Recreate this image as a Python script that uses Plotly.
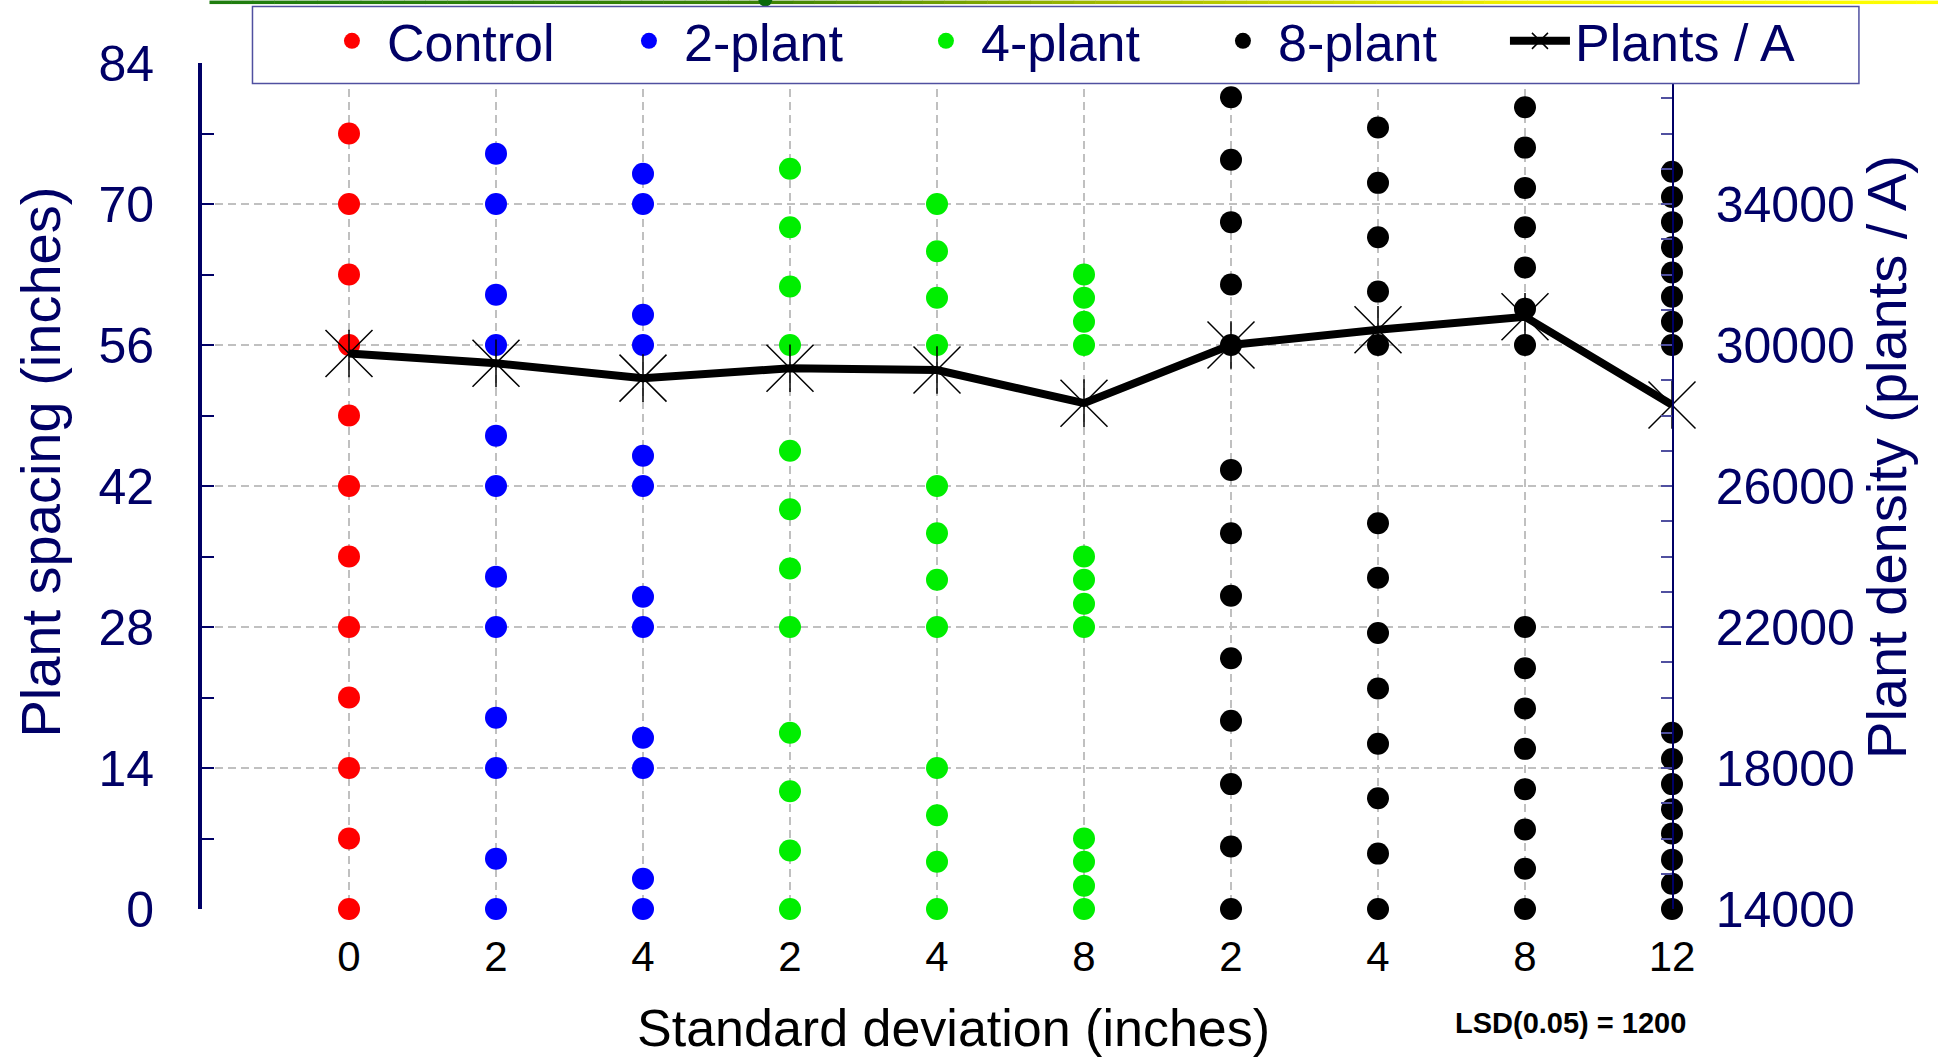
import plotly.graph_objects as go

# ---------------- data ----------------
x_tick_labels = ["0", "2", "4", "2", "4", "8", "2", "4", "8", "12"]

control_0 = [0, 7, 14, 21, 28, 35, 42, 49, 56, 63, 70, 77]
two_plant_2 = [0, 5, 14, 19, 28, 33, 42, 47, 56, 61, 70, 75]
two_plant_4 = [0, 3, 14, 17, 28, 31, 42, 45, 56, 59, 70, 73]
four_plant_2 = [0, 5.8, 11.7, 17.5, 28, 33.8, 39.7, 45.5, 56, 61.8, 67.7, 73.5]
four_plant_4 = [0, 4.7, 9.3, 14, 28, 32.7, 37.3, 42, 56, 60.7, 65.3, 70]
four_plant_8 = [0, 2.3, 4.7, 7, 28, 30.3, 32.7, 35, 56, 58.3, 60.7, 63]
eight_plant_2 = [0, 6.2, 12.4, 18.7, 24.9, 31.1, 37.3, 43.6, 56, 62.0, 68.2, 74.4, 80.6]
eight_plant_4 = [0, 5.5, 11.0, 16.4, 21.9, 27.4, 32.9, 38.3, 56, 61.3, 66.7, 72.1, 77.6]
eight_plant_8 = [0, 4.0, 7.9, 11.9, 15.9, 19.9, 23.9, 28.0, 56, 59.6, 63.7, 67.7, 71.6, 75.6, 79.6]
eight_plant_12 = [0, 2.5, 4.9, 7.5, 9.9, 12.4, 14.9, 17.5, 56, 58.3, 60.8, 63.2, 65.7, 68.2, 70.7, 73.2]

plants_per_acre = [29760, 29480, 29060, 29340, 29290, 28350, 30000, 30430, 30800, 28300]

# ---------------- geometry helpers (screen pixels) ----------------
W, H = 1938, 1059
PL, PR, PT, PB = 201.5, 1672.0, 62.5, 909.5
PW, PH = PR - PL, PB - PT


def px_x(px):
    return (px - PL) / PW


def px_y(py):
    return (PB - py) / PH


NAVY = "#000066"
FONT = "Liberation Sans, Arial, sans-serif"

groups = [
    ("Control", "#ff0000", [control_0]),
    ("2-plant", "#0000ff", [two_plant_2, two_plant_4]),
    ("4-plant", "#00ee00", [four_plant_2, four_plant_4, four_plant_8]),
    ("8-plant", "#000000", [eight_plant_2, eight_plant_4, eight_plant_8, eight_plant_12]),
]

fig = go.Figure()
col = 0
for name, color, columns in groups:
    xs, ys = [], []
    for c in columns:
        xs += [col] * len(c)
        ys += c
        col += 1
    fig.add_trace(go.Scatter(
        x=xs, y=ys, mode="markers", name=name,
        marker=dict(color=color, size=22, line=dict(width=0)),
        cliponaxis=False,
    ))

cat_x = list(range(len(x_tick_labels)))
fig.add_trace(go.Scatter(
    x=cat_x, y=plants_per_acre, yaxis="y2", mode="lines+markers", name="Plants / A",
    line=dict(color="black", width=8),
    marker=dict(symbol="x-thin-open", size=47, color="black", line=dict(color="black", width=1.5)),
    cliponaxis=False,
))
fig.add_trace(go.Scatter(
    x=cat_x, y=plants_per_acre, yaxis="y2", mode="markers", showlegend=False,
    marker=dict(symbol="line-ns-open", size=34, color="black", line=dict(color="black", width=1.5)),
    cliponaxis=False, hoverinfo="skip",
))

# ---------------- decoration (slide banner line + legend frame) ----------------
shapes = []
stops = [(209, (30, 125, 15)), (765, (60, 130, 5)), (1100, (160, 185, 0)),
         (1500, (238, 238, 0)), (1938, (255, 255, 0))]
nseg = 80
for i in range(nseg):
    a = 209 + (1938 - 209) * i / nseg
    b = 209 + (1938 - 209) * (i + 1) / nseg
    m = (a + b) / 2
    for j in range(len(stops) - 1):
        if stops[j][0] <= m <= stops[j + 1][0]:
            t = (m - stops[j][0]) / (stops[j + 1][0] - stops[j][0])
            c = tuple(int(stops[j][1][k] + t * (stops[j + 1][1][k] - stops[j][1][k])) for k in range(3))
            break
    shapes.append(dict(type="rect", xref="paper", yref="paper",
                       x0=px_x(a), x1=px_x(b + 0.5), y0=px_y(3.5), y1=px_y(0),
                       line=dict(width=0), fillcolor="rgb(%d,%d,%d)" % c, layer="above"))
shapes.append(dict(type="circle", xref="paper", yref="paper",
                   x0=px_x(758), x1=px_x(772), y0=px_y(6), y1=px_y(-8),
                   line=dict(width=0), fillcolor="#0a6a0a", layer="above"))
# legend frame
shapes.append(dict(type="rect", xref="paper", yref="paper",
                   x0=px_x(252), x1=px_x(1859), y0=px_y(83), y1=px_y(6),
                   line=dict(color="#5050a0", width=1.5), fillcolor="white", layer="above"))

grid_common = dict(gridcolor="#c0c0c0", gridwidth=2.2, griddash="8px,5px")

fig.update_layout(
    width=W, height=H,
    margin=dict(l=PL, r=W - PR, t=PT, b=H - PB, autoexpand=False),
    paper_bgcolor="white", plot_bgcolor="white",
    font=dict(family=FONT, color=NAVY),
    showlegend=True,
    legend=dict(
        orientation="h", x=px_x(1802), y=px_y(0), xanchor="right", yanchor="top",
        bgcolor="rgba(0,0,0,0)", borderwidth=0,
        font=dict(size=52, color=NAVY, family=FONT),
        entrywidth=222, itemwidth=60,
    ),
    xaxis=dict(
        range=[-1, 9], tickmode="array", tickvals=cat_x, ticktext=x_tick_labels,
        showgrid=True, **grid_common, zeroline=False, showline=False, ticks="",
        tickfont=dict(size=42, color="black", family=FONT), ticklabelstandoff=19,
    ),
    yaxis=dict(
        range=[0, 84], tickmode="array", tickvals=[0, 14, 28, 42, 56, 70, 84],
        showgrid=True, **grid_common, zeroline=False,
        showline=True, linecolor=NAVY, linewidth=4,
        ticks="inside", ticklen=12, tickwidth=2, tickcolor=NAVY,
        minor=dict(dtick=7, ticks="inside", ticklen=12, tickwidth=2, tickcolor=NAVY, showgrid=False),
        tickfont=dict(size=50, color=NAVY, family=FONT), ticklabelstandoff=34,
    ),
    yaxis2=dict(
        overlaying="y", side="right", range=[14000, 38000], tickmode="array",
        tickvals=[14000, 18000, 22000, 26000, 30000, 34000], tickformat="d",
        showgrid=False, zeroline=False,
        showline=True, linecolor=NAVY, linewidth=1.5,
        ticks="inside", ticklen=11, tickwidth=1.5, tickcolor="#5050a0",
        minor=dict(dtick=1000, ticks="inside", ticklen=11, tickwidth=1.5, tickcolor="#5050a0", showgrid=False),
        tickfont=dict(size=50, color=NAVY, family=FONT), ticklabelstandoff=32,
    ),
    shapes=shapes,
    annotations=[
        dict(text="Plant spacing (inches)", xref="paper", yref="paper",
             x=px_x(39), y=px_y(462), textangle=-90, showarrow=False,
             font=dict(size=56, color=NAVY, family=FONT), xanchor="center", yanchor="middle"),
        dict(text="Plant density (plants / A)", xref="paper", yref="paper",
             x=px_x(1886), y=px_y(457), textangle=-90, showarrow=False,
             font=dict(size=56, color=NAVY, family=FONT), xanchor="center", yanchor="middle"),
        dict(text="Standard deviation (inches)", xref="paper", yref="paper",
             x=px_x(953.6), y=px_y(1029), showarrow=False,
             font=dict(size=52, color="black", family=FONT), xanchor="center", yanchor="middle"),
        dict(text="<b>LSD(0.05) = 1200</b>", xref="paper", yref="paper",
             x=px_x(1570), y=px_y(1024), showarrow=False,
             font=dict(size=29, color="black", family=FONT), xanchor="center", yanchor="middle"),
    ],
)

fig.write_html("out.html", config={"displayModeBar": False},
               post_script="document.body.style.margin='0px';")
